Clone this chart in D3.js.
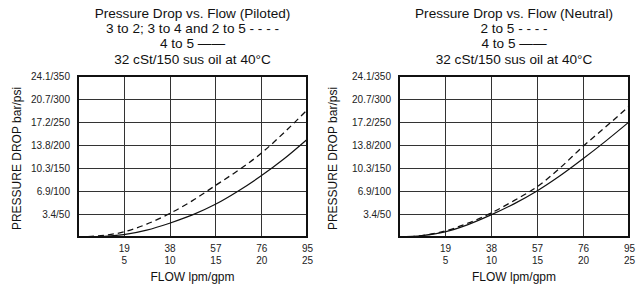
<!DOCTYPE html>
<html>
<head>
<meta charset="utf-8">
<script src="https://cdn.jsdelivr.net/npm/d3@7"></script>
<style>
body { margin: 0; background: #fff; }
svg { display: block; font-family: "Liberation Sans", Arial, sans-serif; }
</style>
</head>
<body>
<svg id="chart" width="636" height="289"></svg>
<script>
// ---- data ----
const flowGpm = [0, 2.5, 5, 7.5, 10, 12.5, 15, 17.5, 20, 22.5, 25];
const pilotedDashed = [0, 3, 11, 28, 51, 79, 112, 145, 182, 227, 276];   // 3 to 2; 3 to 4 and 2 to 5 (psi)
const pilotedSolid  = [0, 1, 5, 15, 30, 48, 71, 100, 133, 170, 212];     // 4 to 5 (psi)
const neutralDashed = [0, 3, 13, 30, 52, 79, 109, 150, 197, 240, 284];   // 2 to 5 (psi)
const neutralSolid  = [0, 3, 11, 27, 48, 72, 100, 133, 170, 209, 250];   // 4 to 5 (psi)

const xTickGpm = [5, 10, 15, 20, 25];
const xTickLpm = ["19", "38", "57", "76", "95"];
const yTickPsi = [50, 100, 150, 200, 250, 300, 350];
const yTickLabels = ["3.4/50", "6.9/100", "10.3/150", "13.8/200", "17.2/250", "20.7/300", "24.1/350"];

const titlesPiloted = ["Pressure Drop vs. Flow (Piloted)", "3 to 2; 3 to 4 and 2 to 5 - - - -", "4 to 5 \u2014\u2014", "32 cSt/150 sus oil at 40\u00B0C"];
const titlesNeutral = ["Pressure Drop vs. Flow (Neutral)", "2 to 5 - - - -", "4 to 5 \u2014\u2014", "32 cSt/150 sus oil at 40\u00B0C"];

const svg = d3.select("#chart");

function panel(left, right, titles, dashed, solid, yLabelX) {
  const top = 76, bottom = 237;
  const x = d3.scaleLinear().domain([0, 25]).range([left, right]);
  const y = d3.scaleLinear().domain([0, 350]).range([bottom, top]);
  const g = svg.append("g");

  // titles
  const cx = (left + right) / 2;
  const baselines = [18, 33, 48, 64];
  titles.forEach((t, i) => {
    g.append("text").attr("x", cx).attr("y", baselines[i])
      .attr("text-anchor", "middle").attr("font-size", 13.6).attr("fill", "#111").text(t);
  });

  // horizontal grid + y labels
  const ya = d3.axisLeft(y).tickValues(yTickPsi).tickSize(-(right - left))
    .tickFormat((d, i) => yTickLabels[i]).tickPadding(8);
  const yg = g.append("g").attr("transform", `translate(${left},0)`).call(ya);
  yg.select(".domain").remove();
  yg.selectAll(".tick line").attr("stroke", "#333").attr("stroke-width", 1).attr("shape-rendering", "crispEdges");
  yg.selectAll(".tick text").attr("font-size", 10).attr("fill", "#222")
    .attr("font-family", "'Liberation Sans', Arial, sans-serif");

  // vertical grid + x labels
  const xa = d3.axisBottom(x).tickValues(xTickGpm).tickSize(-(bottom - top))
    .tickFormat("").tickPadding(0);
  const xg = g.append("g").attr("transform", `translate(0,${bottom})`).call(xa);
  xg.select(".domain").remove();
  xg.selectAll(".tick line").attr("stroke", "#333").attr("stroke-width", 1).attr("shape-rendering", "crispEdges");
  xg.selectAll(".tick").each(function (d, i) {
    const t = d3.select(this).append("text").attr("text-anchor", "middle")
      .attr("font-size", 10).attr("fill", "#222")
      .attr("font-family", "'Liberation Sans', Arial, sans-serif");
    t.append("tspan").attr("x", 0).attr("y", 15).text(xTickLpm[i]);
    t.append("tspan").attr("x", 0).attr("y", 27).text(String(d));
  });

  // frame
  g.append("rect").attr("x", left).attr("y", top).attr("width", right - left).attr("height", bottom - top)
    .attr("fill", "none").attr("stroke", "#111").attr("stroke-width", 1.2).attr("shape-rendering", "crispEdges");

  // axis titles
  g.append("text").attr("x", cx).attr("y", 281).attr("text-anchor", "middle")
    .attr("font-size", 12).attr("fill", "#111").text("FLOW lpm/gpm");
  g.append("text").attr("transform", `translate(${yLabelX},${(top + bottom) / 2 + 2}) rotate(-90)`)
    .attr("text-anchor", "middle").attr("dy", "0.35em")
    .attr("font-size", 12).attr("fill", "#111").text("PRESSURE DROP bar/psi");

  // curves
  const line = d3.line().x((d, i) => x(flowGpm[i])).y(d => y(d)).curve(d3.curveMonotoneX);
  g.append("path").datum(dashed).attr("d", line).attr("fill", "none")
    .attr("stroke", "#111").attr("stroke-width", 1.3).attr("stroke-dasharray", "6,4");
  g.append("path").datum(solid).attr("d", line).attr("fill", "none")
    .attr("stroke", "#111").attr("stroke-width", 1.2);
}

panel(78, 307, titlesPiloted, pilotedDashed, pilotedSolid, 17);
panel(399, 629, titlesNeutral, neutralDashed, neutralSolid, 333);
</script>
</body>
</html>
